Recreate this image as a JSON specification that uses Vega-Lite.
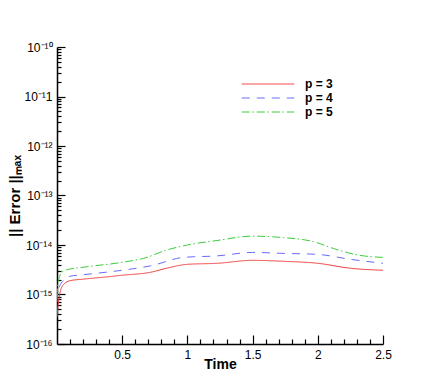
{
  "$schema": "https://vega.github.io/schema/vega-lite/v6.json",
  "width": 326,
  "height": 297,
  "autosize": "none",
  "padding": {"left": 57, "top": 47, "right": 53, "bottom": 44},
  "background": "white",
  "config": {
    "view": {"stroke": null},
    "font": "Liberation Sans",
    "axis": {"labelFont": "Liberation Sans", "titleFont": "Liberation Sans", "domainColor": "black", "domainWidth": 1.5, "tickColor": "black", "labelColor": "black", "titleColor": "black", "grid": false}
  },
  "data": {"values": [
    {"t": 0.0, "e": 3.5e-16, "p": "p = 3"},
    {"t": 0.005, "e": 5.0e-16, "p": "p = 3"},
    {"t": 0.026, "e": 1.17e-15, "p": "p = 3"},
    {"t": 0.05, "e": 1.58e-15, "p": "p = 3"},
    {"t": 0.1, "e": 1.9e-15, "p": "p = 3"},
    {"t": 0.2, "e": 2.04e-15, "p": "p = 3"},
    {"t": 0.36, "e": 2.24e-15, "p": "p = 3"},
    {"t": 0.5, "e": 2.45e-15, "p": "p = 3"},
    {"t": 0.72, "e": 2.82e-15, "p": "p = 3"},
    {"t": 0.84, "e": 3.39e-15, "p": "p = 3"},
    {"t": 1.0, "e": 4.07e-15, "p": "p = 3"},
    {"t": 1.23, "e": 4.27e-15, "p": "p = 3"},
    {"t": 1.5, "e": 4.9e-15, "p": "p = 3"},
    {"t": 1.74, "e": 4.68e-15, "p": "p = 3"},
    {"t": 2.0, "e": 4.27e-15, "p": "p = 3"},
    {"t": 2.25, "e": 3.39e-15, "p": "p = 3"},
    {"t": 2.5, "e": 3.09e-15, "p": "p = 3"},
    {"t": 0.0, "e": 7.0e-16, "p": "p = 4"},
    {"t": 0.005, "e": 1.0e-15, "p": "p = 4"},
    {"t": 0.026, "e": 1.58e-15, "p": "p = 4"},
    {"t": 0.064, "e": 2.04e-15, "p": "p = 4"},
    {"t": 0.1, "e": 2.34e-15, "p": "p = 4"},
    {"t": 0.2, "e": 2.51e-15, "p": "p = 4"},
    {"t": 0.5, "e": 3.09e-15, "p": "p = 4"},
    {"t": 0.72, "e": 3.8e-15, "p": "p = 4"},
    {"t": 0.97, "e": 5.62e-15, "p": "p = 4"},
    {"t": 1.23, "e": 6.03e-15, "p": "p = 4"},
    {"t": 1.5, "e": 7.08e-15, "p": "p = 4"},
    {"t": 1.74, "e": 6.76e-15, "p": "p = 4"},
    {"t": 2.0, "e": 6.46e-15, "p": "p = 4"},
    {"t": 2.25, "e": 5.13e-15, "p": "p = 4"},
    {"t": 2.5, "e": 4.27e-15, "p": "p = 4"},
    {"t": 0.0, "e": 9.0e-16, "p": "p = 5"},
    {"t": 0.005, "e": 1.48e-15, "p": "p = 5"},
    {"t": 0.013, "e": 2.0e-15, "p": "p = 5"},
    {"t": 0.038, "e": 2.82e-15, "p": "p = 5"},
    {"t": 0.077, "e": 3.16e-15, "p": "p = 5"},
    {"t": 0.2, "e": 3.55e-15, "p": "p = 5"},
    {"t": 0.5, "e": 4.47e-15, "p": "p = 5"},
    {"t": 0.664, "e": 5.37e-15, "p": "p = 5"},
    {"t": 0.843, "e": 7.94e-15, "p": "p = 5"},
    {"t": 1.0, "e": 1.0e-14, "p": "p = 5"},
    {"t": 1.226, "e": 1.23e-14, "p": "p = 5"},
    {"t": 1.5, "e": 1.51e-14, "p": "p = 5"},
    {"t": 1.737, "e": 1.41e-14, "p": "p = 5"},
    {"t": 1.967, "e": 1.17e-14, "p": "p = 5"},
    {"t": 2.12, "e": 8.51e-15, "p": "p = 5"},
    {"t": 2.3, "e": 6.31e-15, "p": "p = 5"},
    {"t": 2.5, "e": 5.62e-15, "p": "p = 5"}
  ]},
  "mark": {"type": "line", "strokeWidth": 1, "clip": true, "interpolate": "monotone"},
  "encoding": {
    "x": {
      "field": "t", "type": "quantitative",
      "scale": {"domain": [0, 2.5], "nice": false, "zero": false},
      "axis": {
        "title": "Time", "titleFontSize": 14, "titleFontWeight": "bold", "titlePadding": -3,
        "values": [0.1,0.2,0.3,0.4,0.5,0.6,0.7,0.8,0.9,1,1.1,1.2,1.3,1.4,1.5,1.6,1.7,1.8,1.9,2,2.1,2.2,2.3,2.4,2.5],
        "labelExpr": "abs(datum.value*2 - round(datum.value*2)) < 0.001 ? '' + datum.value : ''",
        "labelFontSize": 12, "labelPadding": 14, "labelFlush": false,
        "tickSize": {"condition": {"test": "abs(datum.value*2 - round(datum.value*2)) < 0.001", "value": -9}, "value": -5},
        "tickWidth": 1.2
      }
    },
    "y": {
      "field": "e", "type": "quantitative",
      "scale": {"type": "log", "domain": [1e-16, 1e-10], "nice": false},
      "axis": {
        "title": "|| Error ||ₘₐₓ", "titleFontSize": 15, "titleFontWeight": "bold", "titlePadding": 1,
        "values": [1e-16,2e-16,3e-16,4e-16,5e-16,6e-16,7e-16,8e-16,9e-16,1e-15,2e-15,3e-15,4e-15,5e-15,6e-15,7e-15,8e-15,9e-15,1e-14,2e-14,3e-14,4e-14,5e-14,6e-14,7e-14,8e-14,9e-14,1e-13,2e-13,3e-13,4e-13,5e-13,6e-13,7e-13,8e-13,9e-13,1e-12,2e-12,3e-12,4e-12,5e-12,6e-12,7e-12,8e-12,9e-12,1e-11,2e-11,3e-11,4e-11,5e-11,6e-11,7e-11,8e-11,9e-11,1e-10],
        "labelExpr": "abs(log(datum.value)/LN10 - round(log(datum.value)/LN10)) < 0.001 ? '10' + replace(replace(replace(replace(replace(replace(replace(replace('' + round(log(datum.value)/LN10), '-', '⁻'), '1', '¹'), '6', '⁶'), '5', '⁵'), '4', '⁴'), '3', '³'), '2', '²'), '0', '⁰') : ''",
        "labelFontSize": 12, "labelPadding": 13,
        "tickSize": {"condition": {"test": "abs(log(datum.value)/LN10 - round(log(datum.value)/LN10)) < 0.001", "value": -8}, "value": -4},
        "tickWidth": 1.2
      }
    },
    "color": {
      "field": "p", "type": "nominal",
      "scale": {"domain": ["p = 3", "p = 4", "p = 5"], "range": ["#f03c3c", "#6a6aff", "#3ccc3c"]},
      "legend": {
        "title": null, "orient": "none", "legendX": 205, "legendY": 31, "padding": 0,
        "symbolType": "M-5,0H5", "symbolSize": 110, "symbolStrokeWidth": 1,
        "labelFontSize": 12, "labelFontWeight": "bold", "labelFont": "Liberation Sans", "labelColor": "black",
        "labelOffset": 31, "rowPadding": 2
      }
    },
    "strokeDash": {
      "field": "p", "type": "nominal",
      "scale": {"domain": ["p = 3", "p = 4", "p = 5"], "range": [[1, 0], [8, 7], [8, 2.5, 1.5, 3]]},
      "legend": null
    }
  }
}
